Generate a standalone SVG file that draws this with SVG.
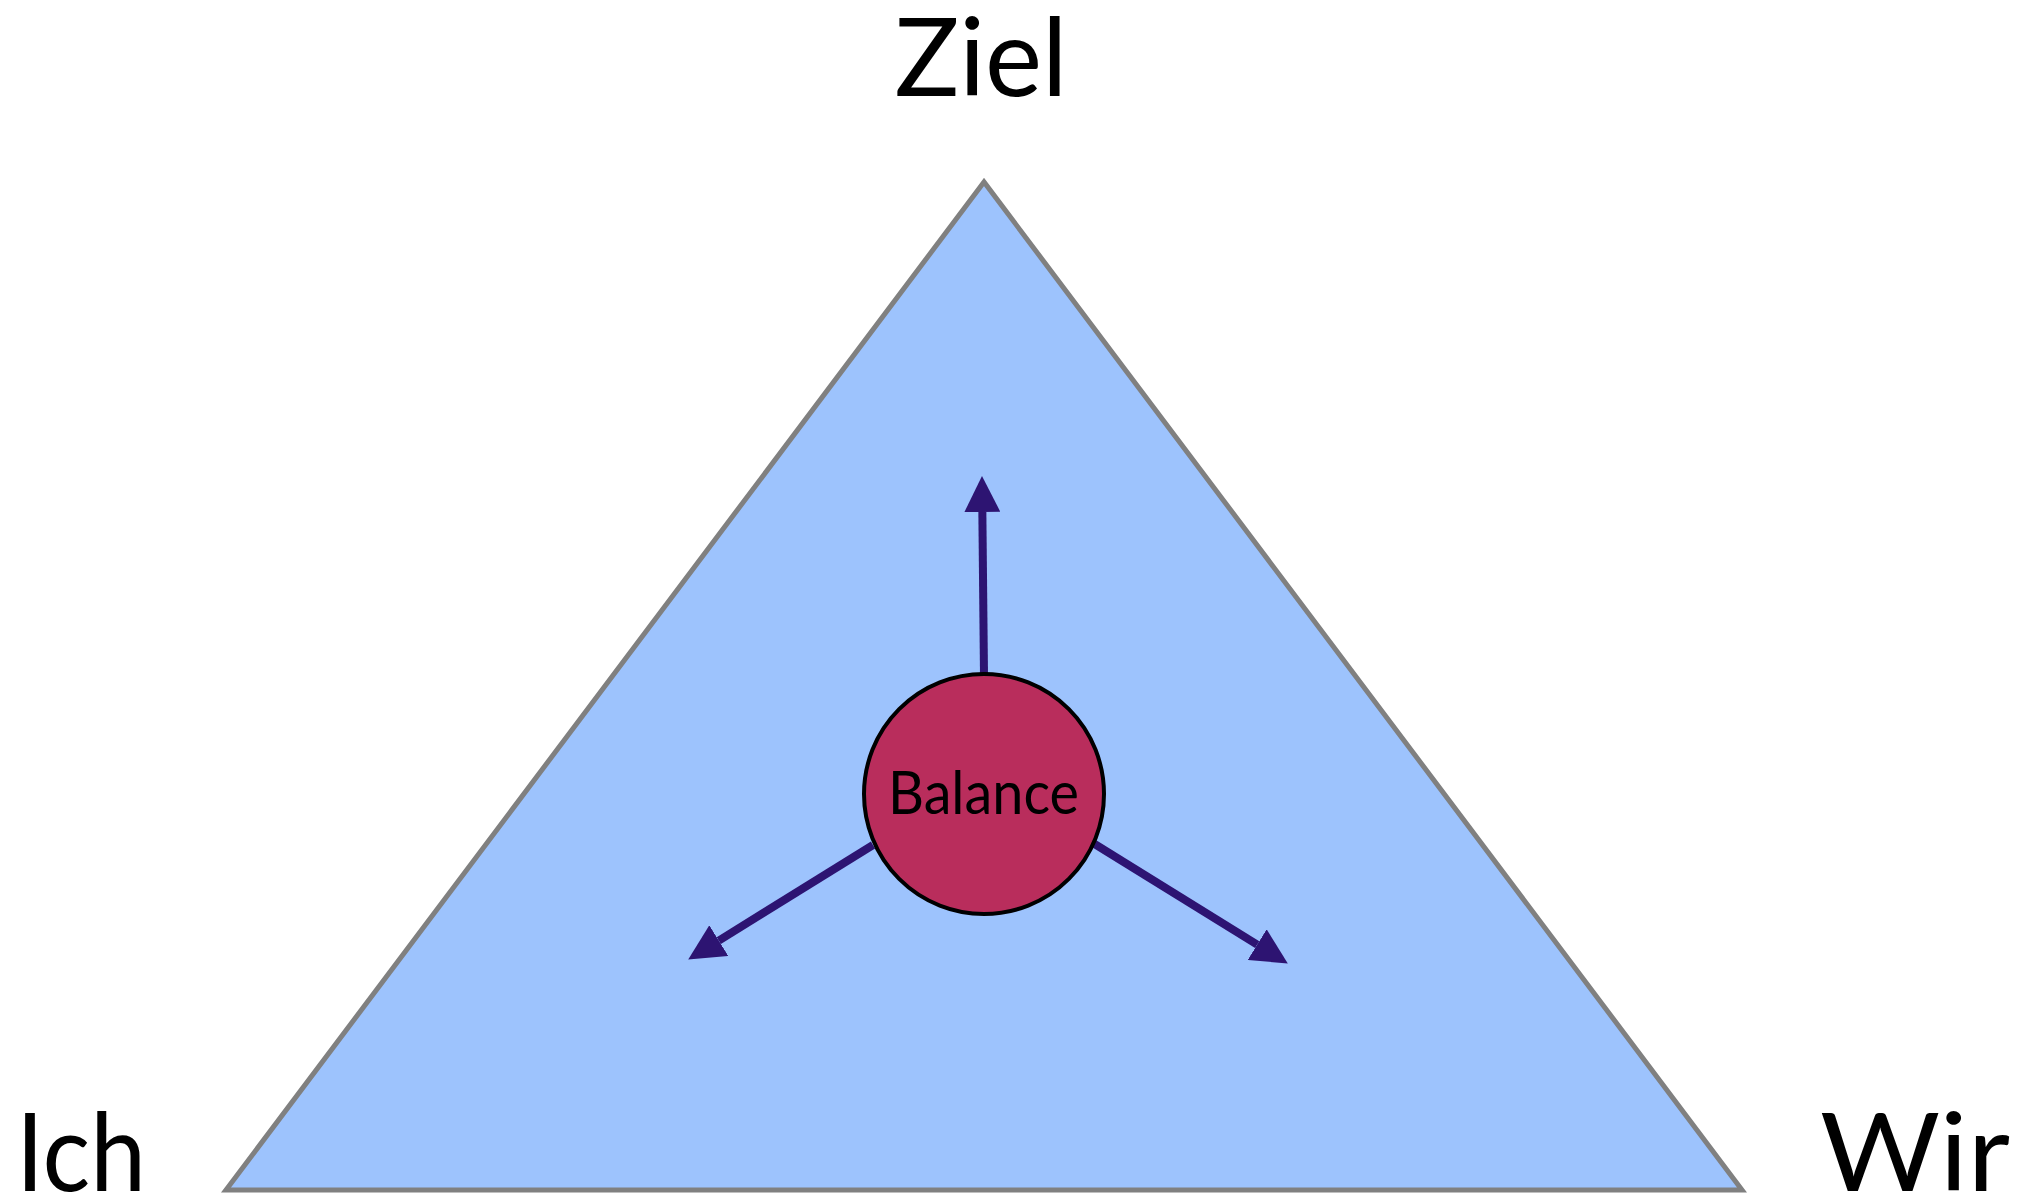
<svg xmlns="http://www.w3.org/2000/svg" width="2025" height="1197" viewBox="0 0 2025 1197">
<style>
.lbl{font-family:Lato,"Liberation Sans",sans-serif;font-size:108px;fill:#000}
.conn{stroke:#2d1472;stroke-width:8;fill:none}
</style>
<defs>
<marker id="ah" markerUnits="userSpaceOnUse" markerWidth="36" markerHeight="36" viewBox="0 0 35 35" refX="0" refY="17.5" orient="auto">
<path d="M0,0 L35,17.5 L0,35 Z" fill="#2d1472"/>
</marker>
</defs>
<rect width="2025" height="1197" fill="#fff"/>
<g id="triangle">
<polygon points="984,182 226,1190 1742,1190" fill="#9dc3fd" stroke="#808080" stroke-width="5" stroke-linejoin="miter"/>
</g>
<g id="connectors">
<line class="conn" x1="984" y1="675" x2="982.35" y2="512" marker-end="url(#ah)"/>
<line class="conn" x1="873" y1="845" x2="718.8" y2="940.6" marker-end="url(#ah)"/>
<line class="conn" x1="1093" y1="843" x2="1257.2" y2="944.6" marker-end="url(#ah)"/>
</g>
<g id="balance">
<circle cx="984" cy="794" r="120" fill="#b92d5c" stroke="#000" stroke-width="4"/>
<text x="983.5" y="814" text-anchor="middle" font-family="Lato,'Liberation Sans',sans-serif" font-size="60" textLength="191" lengthAdjust="spacingAndGlyphs">Balance</text>
</g>
<g id="ziel"><text class="lbl" x="981" y="96" text-anchor="middle">Ziel</text></g>
<g id="ich"><text class="lbl" x="16" y="1191" textLength="130" lengthAdjust="spacingAndGlyphs">Ich</text></g>
<g id="wir"><text class="lbl" x="2010" y="1191" text-anchor="end" textLength="190" lengthAdjust="spacingAndGlyphs">Wir</text></g>
</svg>
